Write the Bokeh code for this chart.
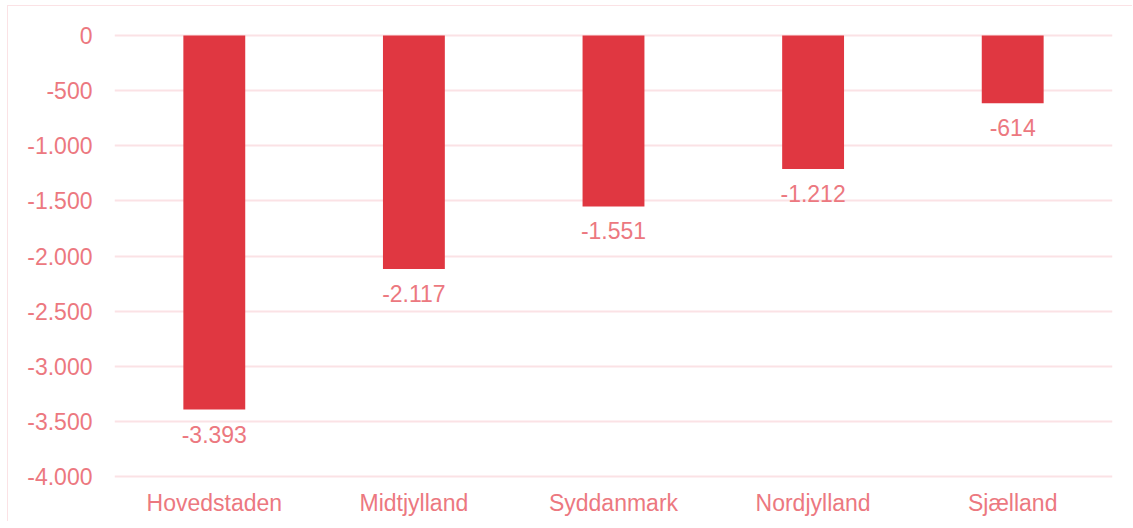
from bokeh.plotting import figure
from bokeh.models import ColumnDataSource, Range1d, FixedTicker, LabelSet
from bokeh.core.properties import value
from bokeh.embed import file_html
from bokeh.resources import INLINE

regions = ["Hovedstaden", "Midtjylland", "Syddanmark", "Nordjylland", "Sjælland"]
values = [-3393, -2117, -1551, -1212, -614]
value_labels = ["-3.393", "-2.117", "-1.551", "-1.212", "-614"]
y_ticks = [0, -500, -1000, -1500, -2000, -2500, -3000, -3500, -4000]
y_tick_labels = ["0", "-500", "-1.000", "-1.500", "-2.000", "-2.500", "-3.000", "-3.500", "-4.000"]

BAR = "#E03741"
TXT = "#EC7880"
GRID = "#FBE2E5"
FONT = "Liberation Sans"

src = ColumnDataSource(dict(x=regions, top=values, lab=value_labels))

p = figure(x_range=regions, y_range=Range1d(-4018, 18),
           width=1125, height=516, output_backend="svg", toolbar_location=None,
           min_border_left=106, min_border_right=21, min_border_top=27, min_border_bottom=44,
           styles={"border-top": f"1px solid {GRID}", "border-left": f"1px solid {GRID}",
                   "margin-left": "7px", "margin-top": "5px"})
p.outline_line_color = None
p.background_fill_color = "white"
p.border_fill_color = "white"

p.vbar(x="x", top="top", bottom=0, width=0.31, source=src, fill_color=BAR, line_color=None)

labels = LabelSet(x="x", y="top", text="lab", source=src, text_align="center",
                  text_baseline="top", y_offset=-16, text_color=TXT,
                  text_font=value(FONT), text_font_size="23px")
p.add_layout(labels)

p.yaxis.ticker = FixedTicker(ticks=y_ticks)
p.yaxis.major_label_overrides = {t: l for t, l in zip(y_ticks, y_tick_labels)}
for ax in (p.xaxis, p.yaxis):
    ax.axis_line_color = None
    ax.major_tick_line_color = None
    ax.minor_tick_line_color = None
    ax.major_label_text_color = TXT
    ax.major_label_text_font = FONT
    ax.major_label_text_font_size = "23px"
p.yaxis.major_label_standoff = 16
p.xaxis.major_label_standoff = 5

p.xgrid.grid_line_color = None
p.ygrid.grid_line_color = GRID
p.ygrid.grid_line_width = 2

open("out.html", "w").write(file_html(p, INLINE))
